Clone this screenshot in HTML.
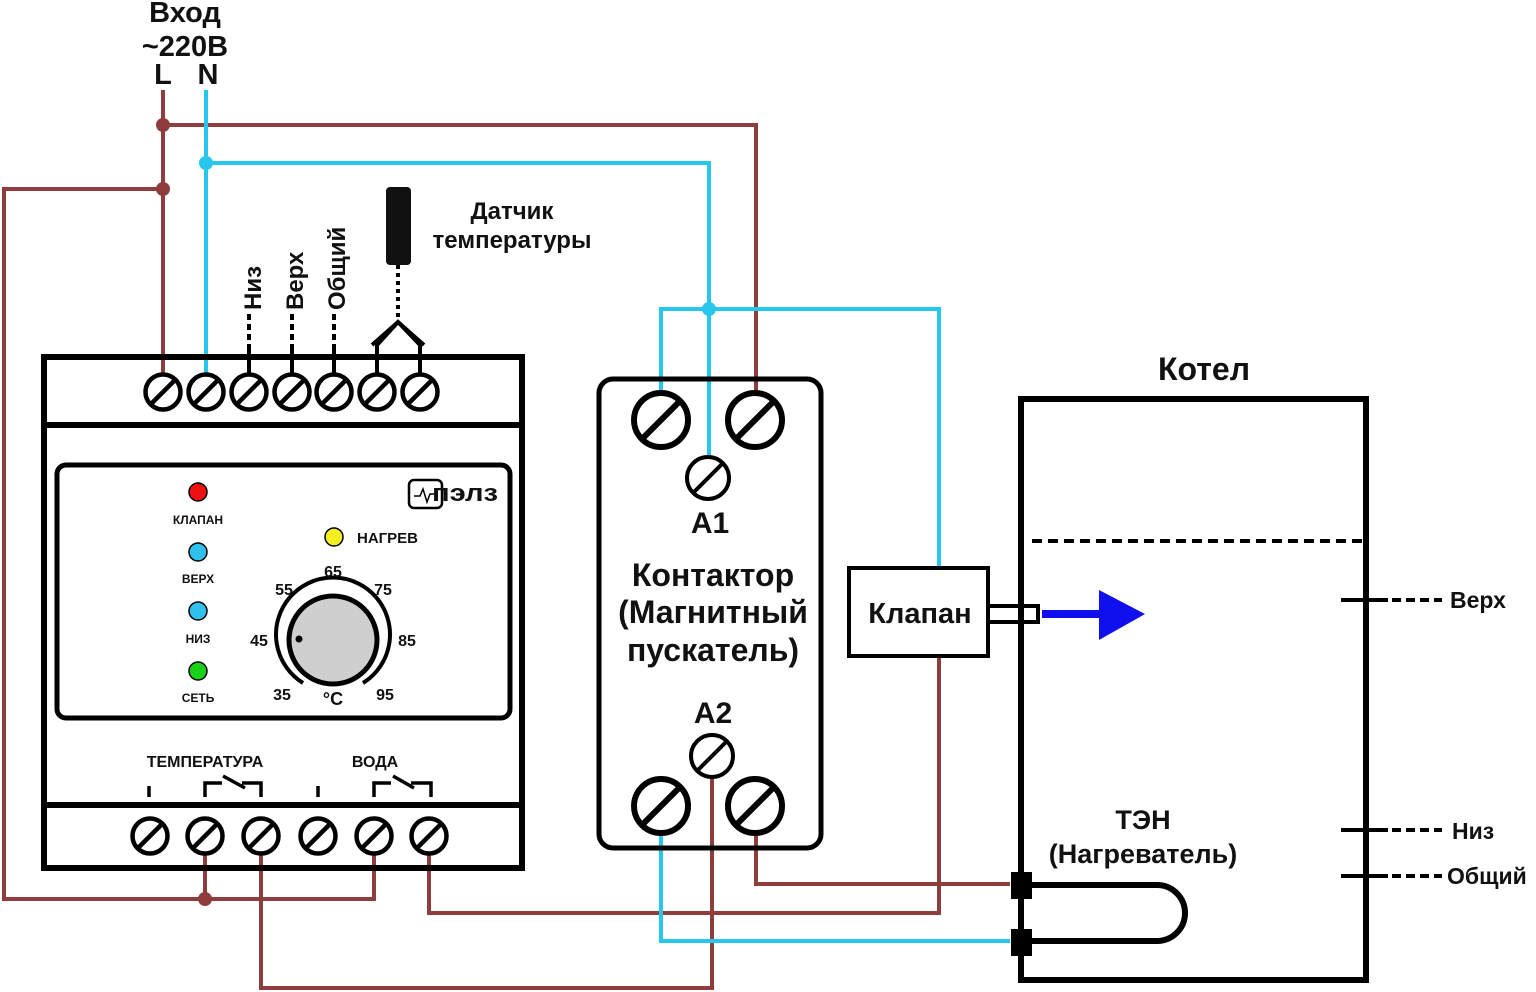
<!DOCTYPE html>
<html><head><meta charset="utf-8"><style>
html,body{margin:0;padding:0;background:#fff}
svg{display:block}
text{font-family:"Liberation Sans",sans-serif;font-weight:bold;fill:#111}
</style></head><body>
<svg width="1536" height="992" viewBox="0 0 1536 992" xmlns="http://www.w3.org/2000/svg">
<defs>
<g id="ts"><circle r="17.5" fill="#fff" stroke="#000" stroke-width="4.5"/><line x1="-12" y1="12" x2="12" y2="-12" stroke="#000" stroke-width="4.5"/></g>
<g id="tb"><circle r="27" fill="#fff" stroke="#000" stroke-width="6"/><line x1="-19" y1="19" x2="19" y2="-19" stroke="#000" stroke-width="6"/></g>
<g id="tm"><circle r="21" fill="#fff" stroke="#000" stroke-width="4"/><line x1="-15" y1="15" x2="15" y2="-15" stroke="#000" stroke-width="4"/></g>
</defs>
<!-- wires -->
<g fill="none" stroke-width="4" stroke="#8e3c3c">
<polyline points="163,90 163,375"/>
<polyline points="163,125 756,125 756,393"/>
<polyline points="163,189 4,189 4,899 374,899 374,836"/>
<polyline points="205,899 205,836"/>
<polyline points="261,836 261,988 712,988 712,756"/>
<polyline points="429,836 429,913 939,913 939,656"/>
<polyline points="756,806 756,884 1010,884"/>
</g>
<g fill="none" stroke-width="4" stroke="#27c6ec">
<polyline points="206,90 206,375"/>
<polyline points="206,163 709,163 709,455"/>
<polyline points="661,393 661,309 939,309 939,568"/>
<polyline points="661,806 661,941 1010,941"/>
</g>
<g fill="#8e3c3c"><circle cx="163" cy="125" r="7"/><circle cx="163" cy="189" r="7"/><circle cx="205" cy="899" r="7"/></g>
<g fill="#27c6ec"><circle cx="206" cy="163" r="7"/><circle cx="709" cy="309" r="7"/></g>
<!-- top text -->
<text x="185" y="22" font-size="29" text-anchor="middle">Вход</text>
<text x="185" y="56" font-size="29" text-anchor="middle">~220В</text>
<text x="163" y="84" font-size="29" text-anchor="middle">L</text>
<text x="208" y="84" font-size="29" text-anchor="middle">N</text>
<!-- sensor -->
<rect x="386" y="187" width="25" height="78" rx="4" fill="#111"/>
<line x1="398" y1="265" x2="398" y2="322" stroke="#000" stroke-width="4" stroke-dasharray="4,4"/>
<polyline points="377,375 377,345 398,322 420,345 420,375" fill="none" stroke="#000" stroke-width="4"/>
<polyline points="372,345 398,322 424,345" fill="none" stroke="#000" stroke-width="4"/>
<text x="512" y="219" font-size="24" text-anchor="middle">Датчик</text>
<text x="512" y="248" font-size="24" text-anchor="middle">температуры</text>
<!-- dashed leads -->
<g stroke="#000" stroke-width="4">
<line x1="249" y1="375" x2="249" y2="350"/><line x1="249" y1="350" x2="249" y2="312" stroke-dasharray="6,4"/>
<line x1="292" y1="375" x2="292" y2="350"/><line x1="292" y1="350" x2="292" y2="312" stroke-dasharray="6,4"/>
<line x1="334" y1="375" x2="334" y2="350"/><line x1="334" y1="350" x2="334" y2="312" stroke-dasharray="6,4"/>
</g>
<text transform="translate(261,310) rotate(-90)" font-size="24">Низ</text>
<text transform="translate(303,310) rotate(-90)" font-size="24">Верх</text>
<text transform="translate(345,310) rotate(-90)" font-size="24">Общий</text>
<!-- device -->
<rect x="44" y="357" width="478" height="511" fill="none" stroke="#000" stroke-width="6"/>
<line x1="44" y1="425" x2="522" y2="425" stroke="#000" stroke-width="6"/>
<line x1="44" y1="805" x2="522" y2="805" stroke="#000" stroke-width="6"/>
<use href="#ts" x="163" y="392"/><use href="#ts" x="206" y="392"/><use href="#ts" x="249" y="392"/><use href="#ts" x="292" y="392"/><use href="#ts" x="334" y="392"/><use href="#ts" x="377" y="392"/><use href="#ts" x="420" y="392"/>
<use href="#ts" x="150" y="836"/><use href="#ts" x="205" y="836"/><use href="#ts" x="261" y="836"/><use href="#ts" x="318" y="836"/><use href="#ts" x="374" y="836"/><use href="#ts" x="429" y="836"/>
<rect x="57" y="465" width="453" height="253" rx="9" fill="none" stroke="#000" stroke-width="5"/>
<g stroke="#000" stroke-width="1.5">
<circle cx="198" cy="492" r="9" fill="#ee1111"/>
<circle cx="198" cy="552" r="9" fill="#2fc0ee"/>
<circle cx="198" cy="611" r="9" fill="#2fc0ee"/>
<circle cx="198" cy="671" r="9" fill="#19d119"/>
<circle cx="334" cy="537" r="9" fill="#f5ee20"/>
</g>
<g font-size="12" text-anchor="middle">
<text x="198" y="524">КЛАПАН</text><text x="198" y="583">ВЕРХ</text><text x="198" y="643">НИЗ</text><text x="198" y="702">СЕТЬ</text>
</g>
<text x="357" y="543" font-size="15" font-weight="normal">НАГРЕВ</text>
<rect x="409" y="480" width="33" height="28" rx="5" fill="none" stroke="#000" stroke-width="2.5"/>
<polyline points="414,496 420,496 423,489 427,502 430,494 436,494" fill="none" stroke="#000" stroke-width="1.5"/>
<text x="432" y="501" font-size="24" textLength="66" lengthAdjust="spacingAndGlyphs">пэлз</text>
<!-- dial -->
<path d="M303,683 A57,57 0 1 1 363,683" fill="none" stroke="#000" stroke-width="4"/>
<circle cx="333" cy="640" r="44" fill="#cfcfcf" stroke="#000" stroke-width="5"/>
<circle cx="299" cy="639" r="3.5" fill="#000"/>
<g font-size="16" text-anchor="middle">
<text x="333" y="577">65</text><text x="284" y="595">55</text><text x="383" y="595">75</text>
<text x="259" y="646">45</text><text x="407" y="646">85</text>
<text x="282" y="700">35</text><text x="385" y="700">95</text><text x="333" y="705" font-size="18">°C</text>
</g>
<g font-size="16" text-anchor="middle">
<text x="205" y="767">ТЕМПЕРАТУРА</text><text x="375" y="767">ВОДА</text>
</g>
<g fill="none" stroke="#000" stroke-width="3.5">
<line x1="149" y1="786" x2="149" y2="797"/>
<polyline points="205,797 205,783 222,783"/><line x1="223" y1="776" x2="245" y2="788"/><polyline points="242,783 261,783 261,797"/>
<line x1="318" y1="786" x2="318" y2="797"/>
<polyline points="374,797 374,783 391,783"/><line x1="393" y1="776" x2="414" y2="788"/><polyline points="411,783 431,783 431,797"/>
</g>
<!-- contactor -->
<rect x="599" y="379" width="222" height="469" rx="14" fill="none" stroke="#000" stroke-width="5"/>
<use href="#tb" x="661" y="420"/><use href="#tb" x="755" y="420"/><use href="#tb" x="661" y="806"/><use href="#tb" x="755" y="806"/>
<use href="#tm" x="708" y="478"/><use href="#tm" x="712" y="756"/>
<text x="710" y="533" font-size="30" text-anchor="middle">А1</text>
<text x="713" y="723" font-size="30" text-anchor="middle">А2</text>
<g font-size="32" text-anchor="middle">
<text x="713" y="586">Контактор</text><text x="713" y="623">(Магнитный</text><text x="713" y="661">пускатель)</text>
</g>
<!-- valve -->
<rect x="849" y="568" width="139" height="88" fill="#fff" stroke="#000" stroke-width="4"/>
<text x="920" y="623" font-size="29" text-anchor="middle">Клапан</text>
<rect x="988" y="606" width="50" height="16" fill="#fff" stroke="#000" stroke-width="4"/>
<line x1="1042" y1="614" x2="1102" y2="614" stroke="#1010ee" stroke-width="8"/>
<polygon points="1099,590 1145,614 1099,640" fill="#1010ee"/>
<!-- boiler -->
<text x="1204" y="380" font-size="32" text-anchor="middle">Котел</text>
<rect x="1021" y="399" width="345" height="581" fill="none" stroke="#000" stroke-width="6"/>
<line x1="1032" y1="541" x2="1362" y2="541" stroke="#000" stroke-width="4" stroke-dasharray="10,6"/>
<g stroke="#000" stroke-width="4">
<line x1="1341" y1="600" x2="1388" y2="600"/><line x1="1392" y1="600" x2="1442" y2="600" stroke-dasharray="9,5"/>
<line x1="1341" y1="830" x2="1388" y2="830"/><line x1="1392" y1="830" x2="1442" y2="830" stroke-dasharray="9,5"/>
<line x1="1341" y1="876" x2="1388" y2="876"/><line x1="1392" y1="876" x2="1442" y2="876" stroke-dasharray="9,5"/>
</g>
<text x="1450" y="608" font-size="23">Верх</text>
<text x="1452" y="839" font-size="23">Низ</text>
<text x="1447" y="884" font-size="23">Общий</text>
<text x="1143" y="829" font-size="27" text-anchor="middle">ТЭН</text>
<text x="1143" y="863" font-size="27" text-anchor="middle">(Нагреватель)</text>
<path d="M1021,885 L1157,885 A28,28 0 0 1 1157,941 L1021,941" fill="none" stroke="#000" stroke-width="6"/>
<rect x="1011" y="872" width="21" height="27" fill="#000"/>
<rect x="1011" y="929" width="21" height="27" fill="#000"/>
</svg>
</body></html>
